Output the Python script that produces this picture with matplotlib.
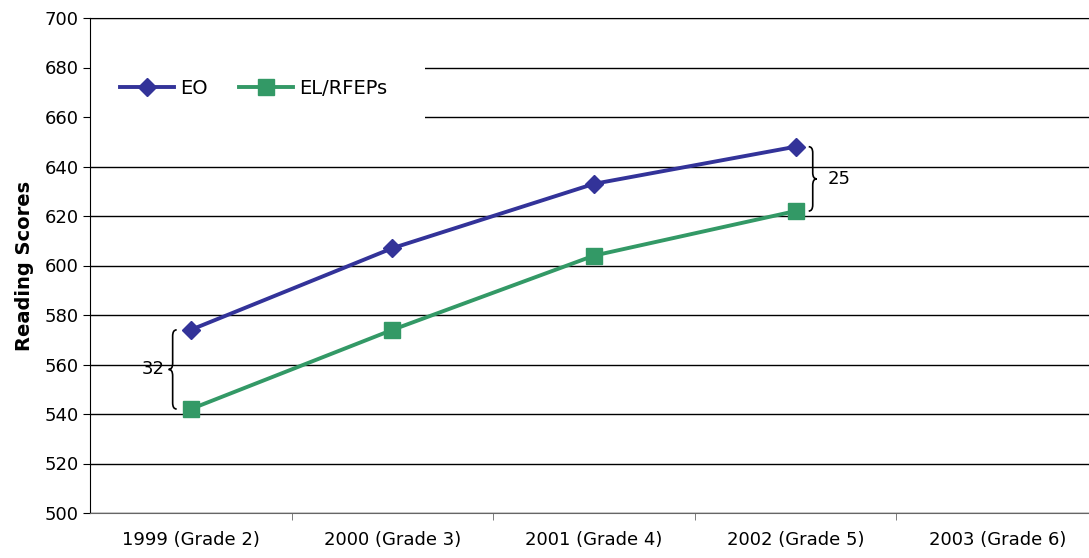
import numpy as np
import matplotlib
matplotlib.use('Agg')
import matplotlib.pyplot as plt
from matplotlib.path import Path
from matplotlib.patches import PathPatch, Rectangle

#--------------------------------------
# Data
#--------------------------------------
years = ['1999 (Grade 2)', '2000 (Grade 3)', '2001 (Grade 4)',
         '2002 (Grade 5)', '2003 (Grade 6)']
eo = [574, 607, 633, 648]
el_rfep = [542, 574, 604, 622]
gap_first = 32
gap_last = 25
#--------------------------------------


def brace(ax, x, y0, y1, w, r):
    # curly brace along x, from y0 (bottom) to y1 (top); tip points to -w side
    ym = (y0 + y1) / 2.0
    verts = [(x + w, y1), (x, y1), (x, y1 - r),
             (x, ym + r),
             (x, ym), (x - w, ym),
             (x, ym), (x, ym - r),
             (x, y0 + r),
             (x, y0), (x + w, y0)]
    codes = [Path.MOVETO, Path.CURVE3, Path.CURVE3,
             Path.LINETO,
             Path.CURVE3, Path.CURVE3,
             Path.CURVE3, Path.CURVE3,
             Path.LINETO,
             Path.CURVE3, Path.CURVE3]
    ax.add_patch(PathPatch(Path(verts, codes), fill=False, lw=1.2,
                           edgecolor='black', zorder=4))


fig = plt.figure(figsize=(10.89, 5.58), dpi=100)
ax = fig.add_axes([90 / 1089., 45 / 558., 1008 / 1089., 495 / 558.])

x = np.arange(len(eo))
ax.plot(x, eo, color='#333399', lw=2.8, marker='D', ms=9, label='EO', zorder=5)
ax.plot(x, el_rfep, color='#339966', lw=2.8, marker='s', ms=12,
        label='EL/RFEPs', zorder=5)

ax.set_xlim(-0.5, len(years) - 0.5)
ax.set_ylim(500, 700)
ax.set_yticks(np.arange(500, 701, 20))
ax.set_xticks(np.arange(len(years)))
ax.set_xticklabels(years)
ax.set_xticks(np.arange(len(years) - 1) + 0.5, minor=True)
ax.tick_params(axis='x', which='major', length=0, pad=13, labelsize=13)
ax.tick_params(axis='x', which='minor', length=5, color='#666666')
ax.tick_params(axis='y', length=5, labelsize=13, pad=3)
ax.grid(axis='y', color='black', lw=1)
ax.set_axisbelow(True)
ax.spines['right'].set_visible(False)
ax.spines['bottom'].set_color('#666666')
ax.set_ylabel('Reading Scores', fontsize=14, fontweight='bold', labelpad=8)

# braces showing the gaps
brace(ax, -0.09, el_rfep[0], eo[0], 0.02, 2.5)
ax.text(-0.13, (eo[0] + el_rfep[0]) / 2.0, str(gap_first), fontsize=13,
        ha='right', va='center')
brace(ax, 3.085, el_rfep[3], eo[3], -0.02, 2.5)
ax.text(3.16, (eo[3] + el_rfep[3]) / 2.0, str(gap_last), fontsize=13,
        ha='left', va='center')

# white box behind legend
ax.add_patch(Rectangle((0, 0.784), 0.332, 0.14, transform=ax.transAxes,
                       facecolor='white', edgecolor='none', zorder=2))
ax.legend(loc='center left', bbox_to_anchor=(0.012, 0.858), ncol=2,
          frameon=False, fontsize=14, handlelength=2.8, columnspacing=1.6,
          handletextpad=0.3)

plt.savefig('out.png', dpi=100)
